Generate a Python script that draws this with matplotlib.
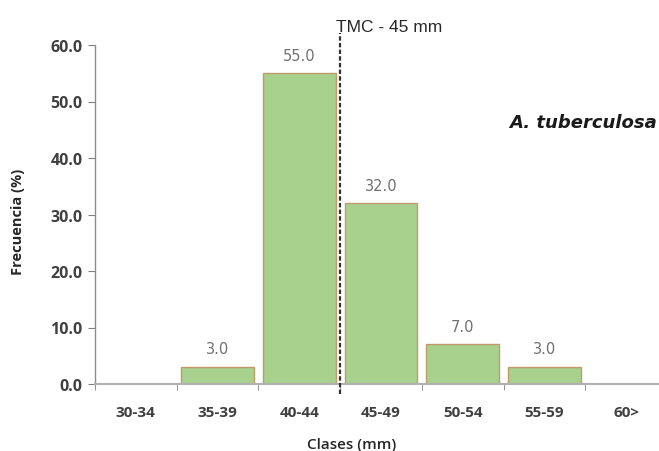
import matplotlib
matplotlib.use("Agg")
import matplotlib.pyplot as plt
import matplotlib.transforms as mtransforms
import numpy as np

categories = ["30-34", "35-39", "40-44", "45-49", "50-54", "55-59", "60>"]
values = [0.0, 3.0, 55.0, 32.0, 7.0, 3.0, 0.0]
yticks = [0, 10, 20, 30, 40, 50, 60]
tmc_label = "TMC - 45 mm"
tmc_class = "45-49"
species = "A. tuberculosa"

fig = plt.figure(figsize=(6.59, 4.52), dpi=100)
W, H = 659, 452
ax = fig.add_axes([95 / W, (H - 385) / H, (667 - 95) / W, (385 - 46) / H])

x = np.arange(len(categories))
for xi, v in zip(x, values):
    if v > 0:
        ax.bar(xi, v, width=0.89, color="#a9d18e", edgecolor="#c09a6b", linewidth=1.0, zorder=2)
        ax.annotate(f"{v:.1f}", (xi, v), xytext=(0, 13), textcoords="offset points",
                    ha="center", va="center", fontsize=10.5, color="#707070",
                    family="DejaVu Sans")

ax.set_xlim(-0.5, len(categories) - 0.5)
ax.set_ylim(0, 60)
ax.set_yticks(yticks)
ax.set_yticklabels([f"{t:.1f}" for t in yticks], fontsize=11.5, fontweight="bold",
                   family="Open Sans", color="#404040")
ax.set_xticks(x)
ax.set_xticklabels(categories, fontsize=11, fontweight="bold", family="Open Sans", color="#404040")
ax.tick_params(axis="x", which="major", length=0, pad=15)
ax.set_xticks(np.arange(-0.5, len(categories) + 0.5, 1), minor=True)
ax.tick_params(axis="x", which="minor", length=4, color="#808080", direction="out")
ax.tick_params(axis="y", length=5, color="#808080", direction="out", pad=4)

for s in ["top", "right"]:
    ax.spines[s].set_visible(False)
ax.spines["left"].set_color("#8c8c8c")
ax.spines["left"].set_linewidth(1.0)
ax.spines["bottom"].set_color("#b0b0b0")
ax.spines["bottom"].set_linewidth(1.5)

# TMC reference line at lower boundary of class
tmc_x = categories.index(tmc_class) - 0.5
trans = mtransforms.blended_transform_factory(ax.transData, ax.transAxes)
ax.plot([tmc_x, tmc_x], [-0.03, 1.035], transform=trans, color="#333333",
        linestyle=(0, (2, 1)), linewidth=1.6, clip_on=False, zorder=3)
ax.text(tmc_x - 0.05, 1.056, tmc_label, transform=trans, ha="left", va="center",
        fontsize=12.5, family="Liberation Sans", color="#262626")

fig.text(657 / W, (H - 123) / H, species, ha="right", va="center", fontsize=13,
         fontweight="bold", fontstyle="italic", family="DejaVu Sans", color="#1a1a1a")

fig.text(18 / W, (H - 222) / H, "Frecuencia (%)", rotation=90, ha="center", va="center",
         fontsize=10.5, fontweight="bold", family="Open Sans", color="#262626")
fig.text(352 / W, (H - 445) / H, "Clases (mm)", ha="center", va="center",
         fontsize=11, fontweight="semibold", family="Open Sans", color="#262626")

fig.savefig("out.png", dpi=100)
